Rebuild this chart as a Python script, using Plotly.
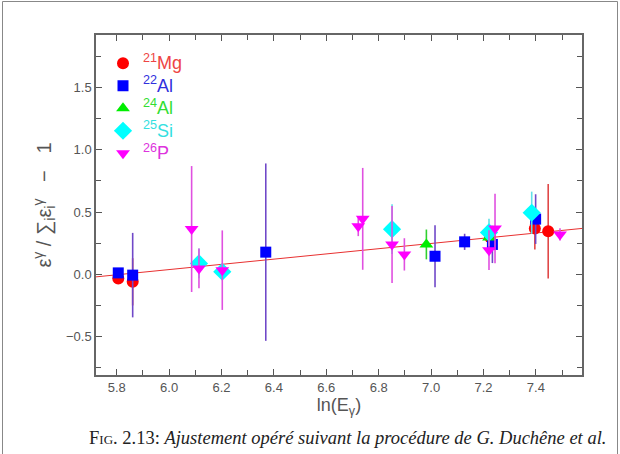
import plotly.graph_objects as go

# ---- data ----
mg21_x = [5.806, 5.861, 7.225, 7.396, 7.447]
mg21_y = [-0.035, -0.062, 0.298, 0.368, 0.345]
mg21_e = [0.02, 0.19, 0.04, 0.17, 0.38]

al22_x = [5.806, 5.861, 6.369, 7.015, 7.128, 7.234, 7.399]
al22_y = [0.01, -0.008, 0.177, 0.144, 0.26, 0.239, 0.443]
al22_e = [0.02, 0.34, 0.714, 0.25, 0.065, 0.15, 0.2]

al24_x = [6.982, 7.221]
al24_y = [0.239, 0.295]
al24_e = [0.12, 0.05]

si25_x = [6.114, 6.203, 6.851, 7.221, 7.384]
si25_y = [0.086, 0.019, 0.362, 0.336, 0.494]
si25_e = [0.12, 0.05, 0.2, 0.11, 0.17]

p26_x = [6.086, 6.114, 6.203, 6.722, 6.739, 6.851, 6.898, 7.221, 7.244, 7.492]
p26_y = [0.363, 0.046, 0.032, 0.386, 0.445, 0.239, 0.159, 0.193, 0.368, 0.32]
p26_e = [0.507, 0.16, 0.32, 0.08, 0.41, 0.31, 0.13, 0.16, 0.28, 0.05]

fit_slope = 0.2102
fit_intercept = -1.2246
x_range = [5.721, 7.576]
y_range = [-0.812, 1.925]

def lbl(color, mass, elem):
    return (f"<span style='color:{color};font-size:18px'>"
            f"<sup>{mass}</sup>{elem}</span>")

series = [
    (lbl("#ee4444", 21, "Mg"), mg21_x, mg21_y, mg21_e, "circle", "#ff0000", "#e04848", 12),
    (lbl("#3030dd", 22, "Al"), al22_x, al22_y, al22_e, "square", "#0000ff", "#7048c8", 11),
    (lbl("#33dd33", 24, "Al"), al24_x, al24_y, al24_e, "triangle-up", "#00ee00", "#30d030", 12),
    (lbl("#33e0e0", 25, "Si"), si25_x, si25_y, si25_e, "diamond", "#00ffff", "#60e0e8", 14),
    (lbl("#dd33dd", 26, "P"), p26_x, p26_y, p26_e, "triangle-down", "#ff00ff", "#e050e0", 12),
]

fig = go.Figure()

fit_x = x_range
fit_y = [fit_intercept + fit_slope * v for v in fit_x]
fig.add_trace(go.Scatter(x=fit_x, y=fit_y, mode="lines",
                         line=dict(color="#e83030", width=1),
                         showlegend=False, hoverinfo="skip"))

for name, xs, ys, es, sym, col, ecol, sz in series:
    fig.add_trace(go.Scatter(
        x=xs, y=ys, mode="markers", name=name,
        marker=dict(symbol=sym, color=col, size=sz, line=dict(width=0)),
        error_y=dict(type="data", array=es, visible=True, color=ecol,
                     thickness=1.6, width=0),
    ))

axis_common = dict(
    showgrid=False, zeroline=False, showline=True, linecolor="#666",
    linewidth=1.5, mirror="allticks", ticks="inside", ticklen=6,
    tickcolor="#555", tickwidth=1,
    tickfont=dict(family="Liberation Sans, Arial, sans-serif", size=13, color="#555"),
)

fig.update_xaxes(range=x_range, dtick=0.2, tick0=5.8, tickformat=".1f",
                 minor=dict(dtick=0.1, ticks="inside", ticklen=5, tickcolor="#555"),
                 title=dict(text="ln(E<sub>γ</sub>)", standoff=0,
                            font=dict(family="Liberation Sans, Arial, sans-serif", size=18, color="#555")),
                 **axis_common)
fig.update_yaxes(range=y_range, dtick=0.5, tick0=0, tickformat=".1f",
                 minor=dict(dtick=0.25, ticks="inside", ticklen=5, tickcolor="#555"),
                 title=dict(text="ε<sup>γ</sup> / ∑<sub>i</sub>ε<sub>i</sub><sup>γ</sup>   −   1", standoff=9,
                            font=dict(family="Liberation Sans, Arial, sans-serif", size=20, color="#555")),
                 **axis_common)

W, H = 620, 454
L, R, T, B = 96, 38, 35, 79
pw, ph = W - L - R, H - T - B

def px(xp):
    return (xp - L) / pw

def py(yp):
    return (H - B - yp) / ph

# outer page frame
fig.add_shape(type="rect", xref="paper", yref="paper",
              x0=px(2.5), x1=px(617.5), y0=py(470), y1=py(1.5),
              line=dict(color="#888", width=1), layer="below")

fig.add_annotation(
    xref="paper", yref="paper", x=px(87), y=py(438), xanchor="left", yanchor="middle",
    text="F<span style='font-size:13px'>IG</span>. 2.13: <i>Ajustement opéré suivant la procédure de G. Duchêne et al.</i>",
    showarrow=False, font=dict(family="Liberation Serif, DejaVu Serif, serif", size=18.5, color="#222"),
)

fig.update_layout(
    width=W, height=H, margin=dict(l=L, r=R, t=T, b=B),
    paper_bgcolor="white", plot_bgcolor="white",
    legend=dict(x=px(103), y=py(47), xanchor="left", yanchor="top",
                bgcolor="rgba(0,0,0,0)", font=dict(family="Liberation Sans, Arial, sans-serif", size=15),
                itemsizing="trace", tracegroupgap=0),
)

fig.write_html("out.html", config={"displayModeBar": False},
               post_script="document.body.style.margin='0';document.body.style.overflow='hidden';")
